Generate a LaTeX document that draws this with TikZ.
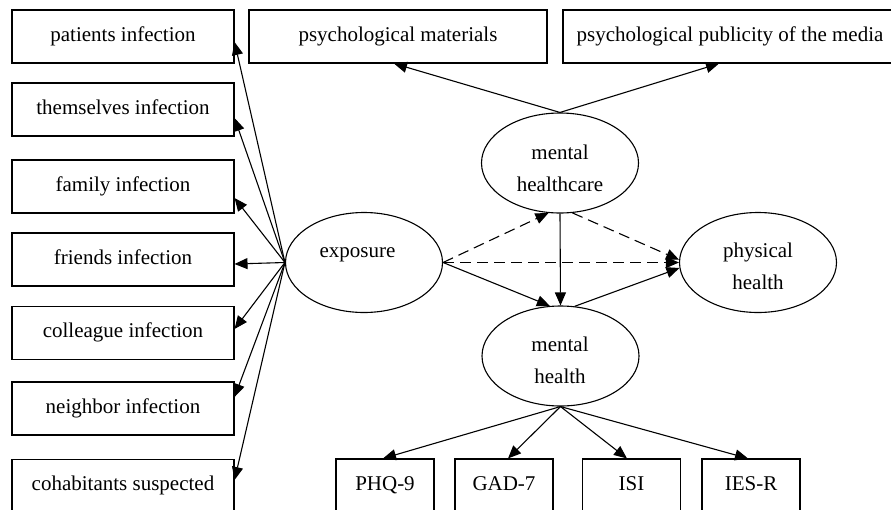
\documentclass[tikz,border=0pt]{standalone}
\usepackage{fontspec}
\setmainfont{Liberation Serif}
\usetikzlibrary{arrows.meta,shapes.geometric}
\begin{document}
\begin{tikzpicture}[x=1pt,y=-1pt,
  box/.style={draw, line width=1.1pt, minimum height=53pt, inner sep=0pt, text height=14pt, text depth=4.5pt, font=\fontsize{21}{25}\selectfont},
  lbox/.style={box, minimum width=222pt},
  bbox/.style={box, minimum width=98pt},
  ell/.style={draw, ellipse, line width=1.1pt, minimum width=157pt, minimum height=100pt, inner sep=0pt},
  lbl/.style={inner sep=0pt, text height=14pt, text depth=4.5pt, font=\fontsize{21}{25}\selectfont},
  arr/.style={line width=1.1pt, -{Triangle[length=13pt,width=11pt]}},
  dsh/.style={arr, dash pattern=on 11pt off 6pt},
]
\useasboundingbox (0,0) rectangle (891,509);
\clip (0,0) rectangle (891,509);
\fill[white] (0,0) rectangle (891,509);

% left boxes
\node[lbox] (pat) at (123,36.5) {patients infection};
\node[lbox] (them) at (123,109.5) {themselves infection};
\node[lbox] (fam) at (123,186.5) {family infection};
\node[lbox] (fri) at (123,259.5) {friends infection};
\node[lbox] (col) at (123,333) {colleague infection};
\node[lbox] (nei) at (123,408.5) {neighbor infection};
\node[lbox] (coh) at (123,486) {cohabitants suspected};

% top boxes
\node[box, minimum width=298pt] (mat) at (398,36.5) {psychological materials};
\node[box, minimum width=334pt] (med) at (730,36.5) {psychological publicity of the media};

% bottom boxes
\node[bbox] (phq) at (385,485.5) {PHQ-9};
\node[bbox] (gad) at (504,485.5) {GAD-7};
\node[bbox] (isi) at (631.5,485.5) {ISI};
\node[bbox] (ies) at (751,485.5) {IES-R};

% ellipses
\node[ell] (exp) at (364,262.5) {};
\node[ell] (mhc) at (560,163) {};
\node[ell] (mh) at (560.5,356) {};
\node[ell] (ph) at (758,262.5) {};

\node[lbl] (t1) at (357.5,253) {exposure};
\node[lbl] (t2) at (560,155) {mental};
\node[lbl] (t3) at (560,187) {healthcare};
\node[lbl] (t4) at (758,253) {physical};
\node[lbl] (t5) at (758,285) {health};
\node[lbl] (t6) at (560,347) {mental};
\node[lbl] (t7) at (560,379) {health};

% exposure to left boxes
\draw[arr] (exp.west) -- ([yshift=-5.5pt]pat.east);
\draw[arr] (exp.west) -- ([yshift=-8.5pt]them.east);
\draw[arr] (exp.west) -- ([yshift=-11.5pt]fam.east);
\draw[arr] (exp.west) -- ([yshift=-4.5pt]fri.east);
\draw[arr] (exp.west) -- ([yshift=4pt]col.east);
\draw[arr] (exp.west) -- ([yshift=11.5pt]nei.east);
\draw[arr] (exp.west) -- ([yshift=6pt]coh.east);

% mental healthcare to top boxes
\draw[arr] (mhc.north) -- ([xshift=-4pt]mat.south);
\draw[arr] (mhc.north) -- ([xshift=-11pt]med.south);

% central structure
\draw[dsh] (exp.east) -- (mhc.-103);
\draw[dsh] (exp.east) -- (ph.west);
\draw[arr] (exp.east) -- (mh.102);
\draw[dsh] (mhc.-76) -- (ph.178);
\draw[arr] (mhc.south) -- (mh.north);
\draw[arr] (mh.74) -- (ph.184);

% mental health to bottom boxes
\draw[arr] (mh.south) -- ([xshift=-2pt]phq.north);
\draw[arr] (mh.south) -- ([xshift=4pt]gad.north);
\draw[arr] (mh.south) -- ([xshift=-4.5pt]isi.north);
\draw[arr] (mh.south) -- ([xshift=-3pt]ies.north);
\end{tikzpicture}
\end{document}
